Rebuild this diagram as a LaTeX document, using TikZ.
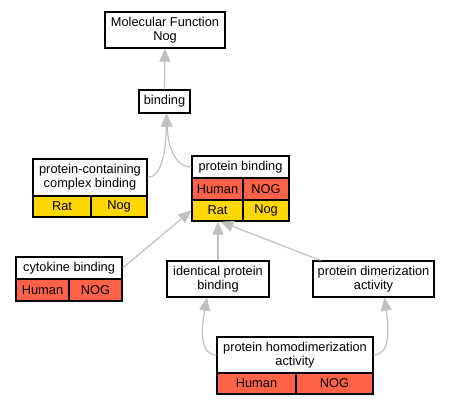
\documentclass[tikz,border=0pt]{standalone}
\usepackage{fontspec}
\setmainfont{Liberation Sans}
\usetikzlibrary{arrows.meta}
\definecolor{redc}{HTML}{FF6347}
\definecolor{goldc}{HTML}{FFD700}
\definecolor{edgec}{HTML}{C0C0C0}
\tikzset{
  box/.style={draw=black, line width=1.3bp, fill=white, inner sep=0pt, align=center,
    font=\fontsize{12.8bp}{14bp}\selectfont},
  redcell/.style={box, fill=redc},
  goldcell/.style={box, fill=goldc},
  edge/.style={draw=edgec, line width=1.2bp, -{Triangle[length=13bp,width=11bp]}},
}
\begin{document}
\begin{tikzpicture}[x=1bp,y=-1bp]
\useasboundingbox (0,0) rectangle (452,405);
% nodes
\node[box, minimum width=120bp, minimum height=36bp] (mf) at (165,30) {Molecular Function\\Nog};
\node[box, minimum width=51bp, minimum height=23bp] (binding) at (164.5,101.5) {binding};
% protein-containing complex binding
\node[box, minimum width=114bp, minimum height=37bp] (pccb) at (90,177.5) {protein-containing\\complex binding};
\node[goldcell, minimum width=58bp, minimum height=21bp] (pccbrat) at (62,206.5) {Rat};
\node[goldcell, minimum width=56bp, minimum height=21bp] (pccbnog) at (119,206.5) {Nog};
% protein binding
\node[box, minimum width=97bp, minimum height=22bp] (pb) at (240.5,167) {protein binding};
\node[redcell, minimum width=51bp, minimum height=22bp] (pbhuman) at (217.5,189) {Human};
\node[redcell, minimum width=46bp, minimum height=22bp] (pbnogh) at (266,189) {NOG};
\node[goldcell, minimum width=51bp, minimum height=21bp] (pbrat) at (217.5,210.5) {Rat};
\node[goldcell, minimum width=46bp, minimum height=21bp] (pbnogr) at (266,210.5) {Nog};
% cytokine binding
\node[box, minimum width=106bp, minimum height=22bp] (cb) at (69,268) {cytokine binding};
\node[redcell, minimum width=53bp, minimum height=22bp] (cbhuman) at (42.5,290) {Human};
\node[redcell, minimum width=53bp, minimum height=22bp] (cbnog) at (95.5,290) {NOG};
% identical protein binding
\node[box, minimum width=102bp, minimum height=36bp] (ipb) at (218,279) {identical protein\\binding};
% protein dimerization activity
\node[box, minimum width=121bp, minimum height=36bp] (pda) at (373.5,279) {protein dimerization\\activity};
% protein homodimerization activity
\node[box, minimum width=156bp, minimum height=36bp] (phd) at (295,355) {protein homodimerization\\activity};
\node[redcell, minimum width=79bp, minimum height=21bp] (phdhuman) at (256.5,383.5) {Human};
\node[redcell, minimum width=77bp, minimum height=21bp] (phdnog) at (334.5,383.5) {NOG};
% edges
\draw[edge] (binding.north) -- (mf.south);
\draw[edge] (pccb.east) .. controls (162,177) and (166,150) .. ([xshift=2bp]binding.south);
\draw[edge] (pb.west) .. controls (174,167) and (168,145) .. ([xshift=2bp]binding.south);
\draw[edge] (cb.east) -- (pbrat.west);
\draw[edge] (ipb.north) -- (ipb.north |- pbrat.south);
\draw[edge] ([xshift=-53bp]pda.north) -- ([xshift=3bp]pbrat.south);
\draw[edge] (phd.west) .. controls (200,355) and (201,330) .. ([xshift=-11bp]ipb.south);
\draw[edge] (phd.east) .. controls (390,355) and (389,330) .. ([xshift=11bp]pda.south);
\end{tikzpicture}
\end{document}
